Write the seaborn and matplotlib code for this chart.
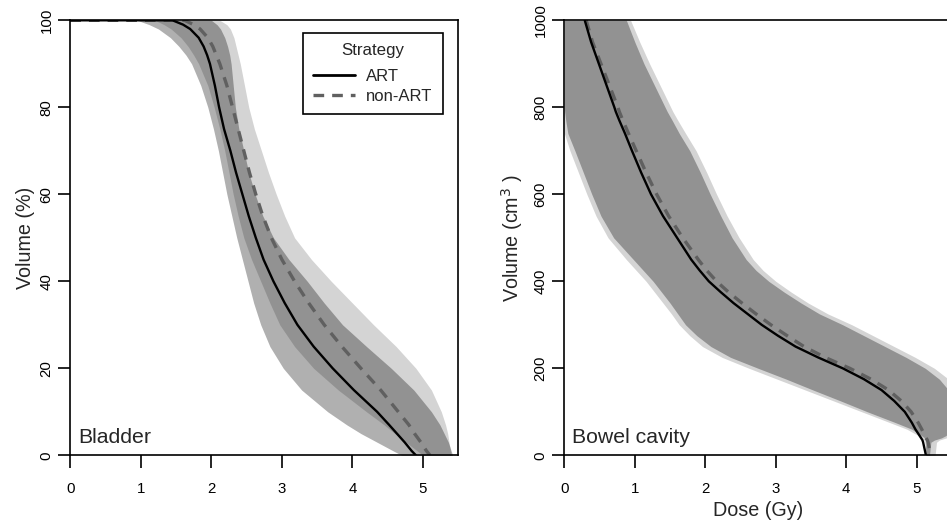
import matplotlib
matplotlib.use("Agg")
import matplotlib.pyplot as plt
from matplotlib.lines import Line2D
import pandas as pd
import seaborn as sns

# ---------------------------------------------------------------------------
# Bladder DVH: dose (Gy) reached at each relative volume level (%)
bladder_volume = [100, 99, 98, 96, 94, 92, 90, 85, 80, 75, 70, 65, 60, 55,
                  50, 45, 40, 35, 30, 25, 20, 15, 10, 7, 5, 3, 1, 0]
bladder_art_mean = [1.45, 1.60, 1.70, 1.82, 1.89, 1.94, 1.98, 2.05, 2.11, 2.18,
                    2.27, 2.35, 2.44, 2.53, 2.63, 2.74, 2.88, 3.04, 3.22, 3.45,
                    3.72, 4.02, 4.35, 4.52, 4.63, 4.74, 4.84, 4.90]
bladder_nonart_mean = [1.62, 1.75, 1.84, 1.95, 2.02, 2.07, 2.12, 2.22, 2.30, 2.38,
                       2.46, 2.54, 2.63, 2.73, 2.85, 3.00, 3.18, 3.38, 3.60, 3.85,
                       4.12, 4.40, 4.65, 4.80, 4.88, 4.97, 5.05, 5.10]
bladder_art_low = [0.95, 1.12, 1.25, 1.42, 1.54, 1.64, 1.72, 1.85, 1.95, 2.03,
                   2.10, 2.16, 2.22, 2.29, 2.36, 2.44, 2.52, 2.60, 2.70, 2.83,
                   3.02, 3.28, 3.65, 3.92, 4.12, 4.35, 4.58, 4.70]
bladder_art_high = [2.00, 2.08, 2.13, 2.19, 2.23, 2.26, 2.28, 2.31, 2.34, 2.39,
                    2.46, 2.53, 2.62, 2.73, 2.88, 3.10, 3.36, 3.60, 3.86, 4.20,
                    4.55, 4.87, 5.12, 5.24, 5.30, 5.36, 5.40, 5.42]
bladder_nonart_low = [1.20, 1.33, 1.43, 1.57, 1.67, 1.75, 1.82, 1.95, 2.04, 2.12,
                      2.19, 2.25, 2.31, 2.38, 2.46, 2.57, 2.70, 2.83, 2.97, 3.18,
                      3.45, 3.80, 4.20, 4.45, 4.60, 4.76, 4.92, 5.00]
bladder_nonart_high = [2.12, 2.22, 2.27, 2.32, 2.35, 2.38, 2.41, 2.47, 2.53, 2.61,
                       2.71, 2.81, 2.92, 3.04, 3.18, 3.42, 3.70, 4.00, 4.30, 4.62,
                       4.90, 5.12, 5.26, 5.32, 5.35, 5.37, 5.39, 5.40]

# Bowel cavity DVH: dose (Gy) reached at each absolute volume level (cm3)
bowel_volume = [1000, 950, 900, 850, 800, 790, 770, 740, 700, 650, 600, 550,
                500, 450, 425, 400, 375, 350, 325, 300, 275, 250, 225, 200,
                175, 150, 125, 100, 75, 60, 50, 45, 40, 35, 30, 0]
bowel_art_mean = [0.29, 0.38, 0.49, 0.60, 0.71, 0.73, 0.78, 0.86, 0.96, 1.09,
                  1.23, 1.40, 1.60, 1.80, 1.92, 2.05, 2.22, 2.40, 2.60, 2.80,
                  3.03, 3.28, 3.60, 3.95, 4.25, 4.50, 4.68, 4.83, 4.93, 4.98,
                  5.02, 5.04, 5.06, 5.08, 5.09, 5.13]
bowel_nonart_mean = [0.31, 0.40, 0.52, 0.64, 0.76, 0.78, 0.83, 0.91, 1.02, 1.16,
                     1.31, 1.48, 1.68, 1.90, 2.02, 2.16, 2.33, 2.52, 2.72, 2.93,
                     3.16, 3.40, 3.70, 4.05, 4.35, 4.60, 4.78, 4.92, 5.02, 5.07,
                     5.10, 5.12, 5.13, 5.15, 5.16, 5.20]
bowel_art_low = [0, 0, 0, 0, 0, 0.005, 0.02, 0.05, 0.15, 0.27, 0.39, 0.52,
                 0.70, 0.98, 1.12, 1.26, 1.38, 1.50, 1.61, 1.72, 1.88, 2.08,
                 2.36, 2.75, 3.15, 3.53, 3.92, 4.30, 4.70, 4.93, 5.02, 5.07,
                 5.11, 5.14, 5.13, 5.12]
bowel_art_high = [0.88, 1.00, 1.13, 1.28, 1.43, 1.46, 1.53, 1.63, 1.78, 1.93,
                  2.07, 2.22, 2.38, 2.58, 2.72, 2.90, 3.12, 3.36, 3.62, 3.95,
                  4.25, 4.55, 4.85, 5.12, 5.32, 5.45, 5.52, 5.55, 5.55, 5.50,
                  5.45, 5.41, 5.35, 5.25, 5.20, 5.18]
bowel_nonart_low = [0, 0, 0, 0, 0, 0, 0, 0, 0.08, 0.20, 0.32, 0.45,
                    0.62, 0.88, 1.02, 1.16, 1.28, 1.40, 1.52, 1.63, 1.78, 1.96,
                    2.24, 2.62, 3.02, 3.42, 3.82, 4.22, 4.62, 4.86, 4.97, 5.03,
                    5.07, 5.10, 5.11, 5.14]
bowel_nonart_high = [0.94, 1.07, 1.21, 1.36, 1.51, 1.54, 1.61, 1.72, 1.87, 2.02,
                     2.16, 2.31, 2.48, 2.68, 2.82, 3.00, 3.22, 3.46, 3.74, 4.08,
                     4.38, 4.68, 4.98, 5.25, 5.45, 5.56, 5.62, 5.65, 5.62, 5.58,
                     5.52, 5.48, 5.42, 5.32, 5.28, 5.26]

strategies = ["ART", "non-ART"]
x_ticks = [0, 1, 2, 3, 4, 5]
bladder_ticks = [0, 20, 40, 60, 80, 100]
bowel_ticks = [0, 200, 400, 600, 800, 1000]

# ---------------------------------------------------------------------------
sns.set_theme(style="ticks")
plt.rcParams["font.family"] = ["Liberation Sans", "DejaVu Sans"]
plt.rcParams["axes.linewidth"] = 1.2

ART_COLOR = "black"
NONART_COLOR = "#606060"
DASHES = (3.2, 2.4)

fig = plt.figure(figsize=(9.47, 5.29), dpi=100)
ax1 = fig.add_axes([0.0742, 0.1393, 0.4097, 0.8223])
ax2 = fig.add_axes([0.5959, 0.1393, 0.4094, 0.8223])


def draw_panel(ax, vol, nonart_lo, nonart_hi, art_lo, art_hi,
               art_mean, nonart_mean, line_start=None):
    # spread bands: non-ART light, ART darker (overlap gives the darkest grey)
    ax.fill_betweenx(vol, nonart_lo, nonart_hi, color="black",
                     alpha=0.17, linewidth=0)
    ax.fill_betweenx(vol, art_lo, art_hi, color="black",
                     alpha=0.31, linewidth=0)
    xs_art, xs_non, ys = list(art_mean), list(nonart_mean), list(vol)
    if line_start is not None:
        xs_art = [line_start[0]] + xs_art
        xs_non = [line_start[0]] + xs_non
        ys = [line_start[1]] + ys
    df_non = pd.DataFrame({"Dose": xs_non, "Volume": ys})
    df_art = pd.DataFrame({"Dose": xs_art, "Volume": ys})
    sns.lineplot(data=df_non, x="Dose", y="Volume", ax=ax, sort=False,
                 color=NONART_COLOR, linewidth=2.4, estimator=None,
                 errorbar=None)
    ax.lines[-1].set_dashes(DASHES)
    sns.lineplot(data=df_art, x="Dose", y="Volume", ax=ax, sort=False,
                 color=ART_COLOR, linewidth=1.7, estimator=None,
                 errorbar=None)


draw_panel(ax1, bladder_volume, bladder_nonart_low, bladder_nonart_high,
           bladder_art_low, bladder_art_high,
           bladder_art_mean, bladder_nonart_mean, line_start=(0, 100))
draw_panel(ax2, bowel_volume, bowel_nonart_low, bowel_nonart_high,
           bowel_art_low, bowel_art_high,
           bowel_art_mean, bowel_nonart_mean)

for ax, yticks, ymax in ((ax1, bladder_ticks, 100), (ax2, bowel_ticks, 1000)):
    ax.set_xlim(0, 5.5)
    ax.set_ylim(0, ymax)
    ax.set_xticks(x_ticks)
    ax.set_yticks(yticks)
    ax.set_xticklabels([str(t) for t in x_ticks])
    ax.set_yticklabels([str(t) for t in yticks])
    ax.tick_params(axis="both", direction="out", length=9, width=1.2,
                   labelsize=10.8, colors="black")
    ax.tick_params(axis="x", pad=10)
    ax.tick_params(axis="y", pad=3, labelrotation=90)
    for lbl in ax.get_yticklabels():
        lbl.set_va("center")
    for sp in ax.spines.values():
        sp.set_visible(True)
        sp.set_color("black")
        sp.set_linewidth(1.2)
    ax.set_facecolor("white")

ax1.set_xlabel("")
ax1.set_ylabel("Volume (%)", fontsize=14.2, labelpad=3)
ax2.set_xlabel("Dose (Gy)", fontsize=14.2, labelpad=4)
ax2.set_ylabel(r"Volume (cm$^3$ )", fontsize=14.2, labelpad=6)

ax1.text(0.02, 0.028, "Bladder", transform=ax1.transAxes, fontsize=15.3,
         ha="left", va="baseline")
ax2.text(0.019, 0.028, "Bowel cavity", transform=ax2.transAxes,
         fontsize=15.3, ha="left", va="baseline")

handles = [
    Line2D([], [], color=ART_COLOR, linewidth=2.0),
    Line2D([], [], color=NONART_COLOR, linewidth=2.4, dashes=DASHES),
]
leg = ax1.legend(handles, strategies, title="Strategy", loc="upper right",
                 bbox_to_anchor=(0.96, 0.971), fontsize=12,
                 title_fontsize=12.2, frameon=True, fancybox=False,
                 framealpha=1, edgecolor="black", handlelength=2.5,
                 borderpad=0.6, labelspacing=0.3, handletextpad=0.7,
                 borderaxespad=0)
leg.get_frame().set_linewidth(1.2)
leg._legend_box.sep = 8

fig.savefig("out.png", dpi=100, facecolor="white")
